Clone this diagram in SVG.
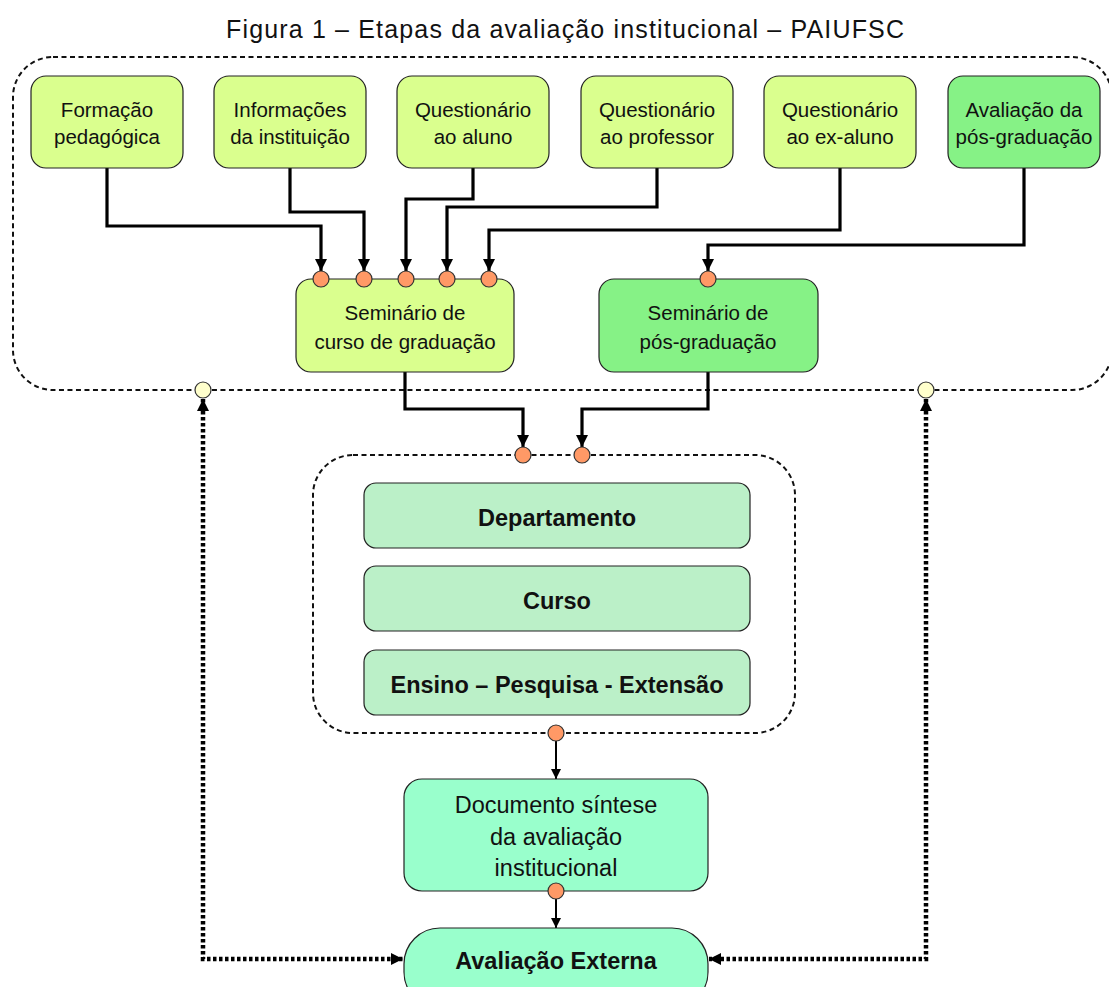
<svg xmlns="http://www.w3.org/2000/svg" width="1109" height="987" viewBox="0 0 1109 987">
<defs>
<style>
.t{font-family:"Liberation Sans",Arial,sans-serif;font-size:20.5px;fill:#111;text-anchor:middle}
.title{font-size:25px}
.lg{font-size:23.5px}
.b{font-weight:bold;font-size:23.5px}
.box{stroke:#222;stroke-width:1.2}
.yg{fill:#daff8e}
.gr{fill:#86f286}
.mg{fill:#bbf0c8}
.aq{fill:#99ffcc}
.dash{fill:none;stroke:#111;stroke-width:2;stroke-dasharray:5 3.5}
.con{fill:none;stroke:#000;stroke-width:3.2}
.thin{fill:none;stroke:#000;stroke-width:2}
.dot{fill:none;stroke:#000;stroke-width:4.5;stroke-dasharray:3.5 2.5}
.oc{fill:#ff9966;stroke:#333;stroke-width:1.2}
.pc{fill:#ffffcc;stroke:#333;stroke-width:1.2}
</style>
<marker id="ah" markerUnits="userSpaceOnUse" markerWidth="14" markerHeight="14" viewBox="0 0 14 14" refX="13" refY="7" orient="auto"><path d="M1 1 L13 7 L1 13 Z" fill="#000"/></marker>
<marker id="ahs" markerUnits="userSpaceOnUse" markerWidth="12" markerHeight="12" viewBox="0 0 12 12" refX="11" refY="6" orient="auto"><path d="M1 1 L11 6 L1 11 Z" fill="#000"/></marker>
<marker id="ad" markerUnits="userSpaceOnUse" markerWidth="14" markerHeight="14" viewBox="0 0 14 14" refX="13" refY="7" orient="auto-start-reverse"><path d="M1 1 L13 7 L1 13 Z" fill="#000"/></marker>
</defs>
<rect width="1109" height="987" fill="#fff"/>
<text class="t title" x="565" y="38" textLength="678" lengthAdjust="spacing">Figura 1 – Etapas da avaliação institucional – PAIUFSC</text>

<g id="groups">
<rect id="outer-group" class="dash" x="13" y="57" width="1099" height="333" rx="40"/>
<rect id="middle-group" class="dash" x="313" y="455" width="482" height="278" rx="40"/>
</g>

<g id="connectors">
<path class="con" d="M107 168 V226 H321 V271" marker-end="url(#ah)"/>
<path class="con" d="M290 168 V212 H364 V271" marker-end="url(#ah)"/>
<path class="con" d="M473 168 V199 H406 V271" marker-end="url(#ah)"/>
<path class="con" d="M657 168 V207 H447 V271" marker-end="url(#ah)"/>
<path class="con" d="M840 168 V230 H489 V271" marker-end="url(#ah)"/>
<path class="con" d="M1024 168 V245 H708 V271" marker-end="url(#ah)"/>
<path class="con" d="M405 372 V409 H523 V447" marker-end="url(#ah)"/>
<path class="con" d="M708 372 V409 H582 V447" marker-end="url(#ah)"/>
<path class="thin" d="M556 741 V779" marker-end="url(#ahs)"/>
<path class="thin" d="M556 899 V928" marker-end="url(#ahs)"/>
<path class="dot" d="M203 399 V959 H403" marker-start="url(#ad)" marker-end="url(#ad)"/>
<path class="dot" d="M926 399 V959 H709" marker-start="url(#ad)" marker-end="url(#ad)"/>
</g>

<g id="n-formacao"><rect class="box yg" x="31" y="76" width="152" height="92" rx="15"/><text class="t" x="107" y="117">Formação</text><text class="t" x="107" y="144">pedagógica</text></g>
<g id="n-informacoes"><rect class="box yg" x="214" y="76" width="152" height="92" rx="15"/><text class="t" x="290" y="117">Informações</text><text class="t" x="290" y="144">da instituição</text></g>
<g id="n-q-aluno"><rect class="box yg" x="397" y="76" width="152" height="92" rx="15"/><text class="t" x="473" y="117">Questionário</text><text class="t" x="473" y="144">ao aluno</text></g>
<g id="n-q-professor"><rect class="box yg" x="581" y="76" width="152" height="92" rx="15"/><text class="t" x="657" y="117">Questionário</text><text class="t" x="657" y="144">ao professor</text></g>
<g id="n-q-exaluno"><rect class="box yg" x="764" y="76" width="152" height="92" rx="15"/><text class="t" x="840" y="117">Questionário</text><text class="t" x="840" y="144">ao ex-aluno</text></g>
<g id="n-aval-pos"><rect class="box gr" x="948" y="76" width="152" height="92" rx="15"/><text class="t" x="1024" y="117">Avaliação da</text><text class="t" x="1024" y="144">pós-graduação</text></g>

<g id="n-sem-grad"><rect class="box yg" x="296" y="279" width="218" height="93" rx="15"/><text class="t" x="405" y="320">Seminário de</text><text class="t" x="405" y="349">curso de graduação</text></g>
<g id="n-sem-pos"><rect class="box gr" x="599" y="279" width="219" height="93" rx="15"/><text class="t" x="708" y="320">Seminário de</text><text class="t" x="708" y="349">pós-graduação</text></g>

<g id="n-departamento"><rect class="box mg" x="364" y="483" width="386" height="65" rx="12"/><text class="t b" x="557" y="526">Departamento</text></g>
<g id="n-curso"><rect class="box mg" x="364" y="566" width="386" height="65" rx="12"/><text class="t b" x="557" y="609">Curso</text></g>
<g id="n-ensino"><rect class="box mg" x="364" y="650" width="386" height="65" rx="12"/><text class="t b" x="557" y="693">Ensino – Pesquisa - Extensão</text></g>

<g id="n-documento"><rect class="box aq" x="404" y="779" width="304" height="112" rx="18"/><text class="t lg" x="556" y="813">Documento síntese</text><text class="t lg" x="556" y="845">da avaliação</text><text class="t lg" x="556" y="876">institucional</text></g>
<g id="n-aval-externa"><rect class="box aq" x="404" y="928" width="304" height="80" rx="36"/><text class="t b" x="556" y="969">Avaliação Externa</text></g>

<g id="ports">
<circle class="oc" cx="321" cy="279" r="8"/><circle class="oc" cx="364" cy="279" r="8"/><circle class="oc" cx="406" cy="279" r="8"/><circle class="oc" cx="447" cy="279" r="8"/><circle class="oc" cx="489" cy="279" r="8"/><circle class="oc" cx="708" cy="279" r="8"/>
<circle class="oc" cx="523" cy="455" r="8"/><circle class="oc" cx="582" cy="455" r="8"/>
<circle class="oc" cx="556" cy="733" r="8"/><circle class="oc" cx="556" cy="891" r="8"/>
<circle class="pc" cx="203" cy="390" r="8"/><circle class="pc" cx="926" cy="390" r="8"/>
</g>
</svg>
